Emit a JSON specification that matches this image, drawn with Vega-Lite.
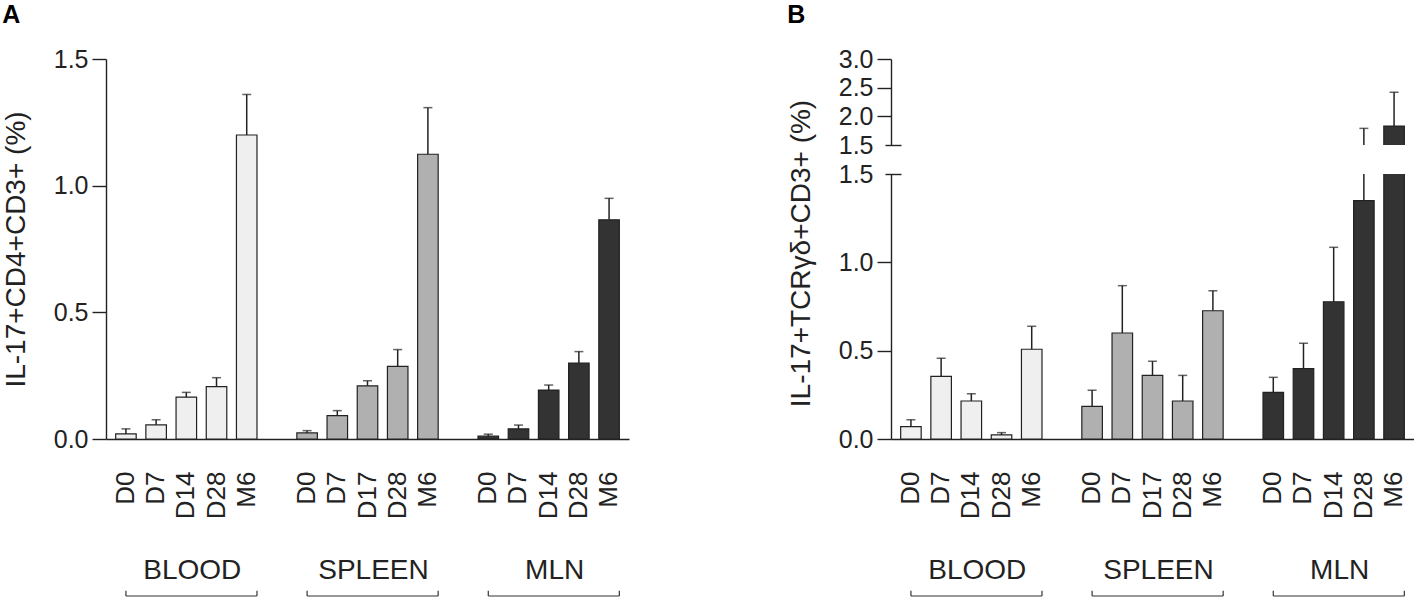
{
  "$schema": "https://vega.github.io/schema/vega-lite/v6.json",
  "padding": {"top": 3, "left": 2, "right": 0, "bottom": 0},
  "background": "white",
  "config": {
    "view": {"stroke": null},
    "font": "Liberation Sans",
    "axis": {
      "grid": false,
      "domainColor": "#222",
      "tickColor": "#222",
      "labelColor": "#222",
      "titleColor": "#222",
      "domainWidth": 1.4,
      "tickWidth": 1.4,
      "labelFont": "Liberation Sans",
      "titleFont": "Liberation Sans",
      "titleFontWeight": "normal"
    },
    "title": {"font": "Liberation Sans", "fontSize": 25, "fontWeight": "bold", "color": "#000", "anchor": "start", "frame": "bounds", "offset": 19}
  },
  "datasets": {
    "a": [
      {"tissue": "BLOOD", "time": "D0", "key": "BLOOD|D0", "mean": 0.02, "err": 0.04},
      {"tissue": "BLOOD", "time": "D7", "key": "BLOOD|D7", "mean": 0.056, "err": 0.076},
      {"tissue": "BLOOD", "time": "D14", "key": "BLOOD|D14", "mean": 0.165, "err": 0.184},
      {"tissue": "BLOOD", "time": "D28", "key": "BLOOD|D28", "mean": 0.207, "err": 0.242},
      {"tissue": "BLOOD", "time": "M6", "key": "BLOOD|M6", "mean": 1.2, "err": 1.36},
      {"tissue": "SPLEEN", "time": "D0", "key": "SPLEEN|D0", "mean": 0.024, "err": 0.033},
      {"tissue": "SPLEEN", "time": "D7", "key": "SPLEEN|D7", "mean": 0.092, "err": 0.112},
      {"tissue": "SPLEEN", "time": "D17", "key": "SPLEEN|D17", "mean": 0.21, "err": 0.23},
      {"tissue": "SPLEEN", "time": "D28", "key": "SPLEEN|D28", "mean": 0.287, "err": 0.353},
      {"tissue": "SPLEEN", "time": "M6", "key": "SPLEEN|M6", "mean": 1.124, "err": 1.308},
      {"tissue": "MLN", "time": "D0", "key": "MLN|D0", "mean": 0.011, "err": 0.019},
      {"tissue": "MLN", "time": "D7", "key": "MLN|D7", "mean": 0.04, "err": 0.055},
      {"tissue": "MLN", "time": "D14", "key": "MLN|D14", "mean": 0.193, "err": 0.213},
      {"tissue": "MLN", "time": "D28", "key": "MLN|D28", "mean": 0.3, "err": 0.345},
      {"tissue": "MLN", "time": "M6", "key": "MLN|M6", "mean": 0.865, "err": 0.95}
    ],
    "b": [
      {"tissue": "BLOOD", "time": "D0", "key": "BLOOD|D0", "mean": 0.07, "err": 0.109},
      {"tissue": "BLOOD", "time": "D7", "key": "BLOOD|D7", "mean": 0.355, "err": 0.457},
      {"tissue": "BLOOD", "time": "D14", "key": "BLOOD|D14", "mean": 0.215, "err": 0.256},
      {"tissue": "BLOOD", "time": "D28", "key": "BLOOD|D28", "mean": 0.023, "err": 0.036},
      {"tissue": "BLOOD", "time": "M6", "key": "BLOOD|M6", "mean": 0.508, "err": 0.638},
      {"tissue": "SPLEEN", "time": "D0", "key": "SPLEEN|D0", "mean": 0.185, "err": 0.276},
      {"tissue": "SPLEEN", "time": "D7", "key": "SPLEEN|D7", "mean": 0.6, "err": 0.868},
      {"tissue": "SPLEEN", "time": "D17", "key": "SPLEEN|D17", "mean": 0.36, "err": 0.44},
      {"tissue": "SPLEEN", "time": "D28", "key": "SPLEEN|D28", "mean": 0.215, "err": 0.36},
      {"tissue": "SPLEEN", "time": "M6", "key": "SPLEEN|M6", "mean": 0.726, "err": 0.839},
      {"tissue": "MLN", "time": "D0", "key": "MLN|D0", "mean": 0.264, "err": 0.349},
      {"tissue": "MLN", "time": "D7", "key": "MLN|D7", "mean": 0.398, "err": 0.542},
      {"tissue": "MLN", "time": "D14", "key": "MLN|D14", "mean": 0.777, "err": 1.085},
      {"tissue": "MLN", "time": "D28", "key": "MLN|D28", "mean": 1.349, "err": 1.79},
      {"tissue": "MLN", "time": "M6", "key": "MLN|M6", "mean": 1.83, "err": 2.42}
    ],
    "g": [
      {"tissue": "BLOOD", "first": "BLOOD|D0", "mid": "BLOOD|D14", "last": "BLOOD|M6"},
      {"tissue": "SPLEEN", "first": "SPLEEN|D0", "mid": "SPLEEN|D17", "last": "SPLEEN|M6"},
      {"tissue": "MLN", "first": "MLN|D0", "mid": "MLN|D14", "last": "MLN|M6"}
    ]
  },
  "hconcat": [
    {
      "title": {"text": "A"},
      "spacing": 37,
      "vconcat": [
        {
          "width": 523,
          "height": 380,
          "data": {"name": "a"},
          "encoding": {
            "x": {
              "field": "key",
              "type": "nominal",
              "scale": {
                "domain": ["BLOOD|D0", "BLOOD|D7", "BLOOD|D14", "BLOOD|D28", "BLOOD|M6", "g1|", "SPLEEN|D0", "SPLEEN|D7", "SPLEEN|D17", "SPLEEN|D28", "SPLEEN|M6", "g2|", "MLN|D0", "MLN|D7", "MLN|D14", "MLN|D28", "MLN|M6"],
                "paddingInner": 0.32,
                "paddingOuter": 0.32
              },
              "axis": {"title": null, "labelExpr": "split(datum.value, '|')[1]", "labelAngle": -90, "ticks": false, "labelPadding": 32, "labelFontSize": 26, "labelOverlap": false}
            }
          },
          "layer": [
            {
              "mark": {"type": "bar", "stroke": "#222", "strokeWidth": 1.2},
              "encoding": {
                "y": {
                  "field": "mean",
                  "type": "quantitative",
                  "scale": {"domain": [0, 1.5], "nice": false},
                  "axis": {"title": "IL-17+CD4+CD3+  (%)", "values": [0, 0.5, 1, 1.5], "format": ".1f", "tickSize": 14, "labelPadding": 4, "labelFontSize": 25, "titleFontSize": 28, "titlePadding": 23}
                },
                "fill": {
                  "field": "tissue",
                  "type": "nominal",
                  "scale": {"domain": ["BLOOD", "SPLEEN", "MLN"], "range": ["#efefef", "#b0b0b0", "#333333"]},
                  "legend": null
                }
              }
            },
            {
              "mark": {"type": "rule", "strokeWidth": 1.5, "color": "#222"},
              "encoding": {"y": {"field": "mean", "type": "quantitative"}, "y2": {"field": "err"}}
            },
            {
              "mark": {"type": "tick", "size": 9, "thickness": 1.5, "color": "#222"},
              "encoding": {"y": {"field": "err", "type": "quantitative"}}
            }
          ]
        },
        {
          "width": 523,
          "height": 40,
          "data": {"name": "g"},
          "encoding": {},
          "layer": [
            {
              "mark": {"type": "text", "fontSize": 28, "dx": 6, "color": "#222", "baseline": "middle"},
              "encoding": {
                "x": {"field": "mid", "type": "nominal", "scale": {"domain": ["BLOOD|D0", "BLOOD|D7", "BLOOD|D14", "BLOOD|D28", "BLOOD|M6", "g1|", "SPLEEN|D0", "SPLEEN|D7", "SPLEEN|D17", "SPLEEN|D28", "SPLEEN|M6", "g2|", "MLN|D0", "MLN|D7", "MLN|D14", "MLN|D28", "MLN|M6"], "paddingInner": 0.32, "paddingOuter": 0.32}, "axis": null},
                "y": {"datum": 0.68, "type": "quantitative", "scale": {"domain": [0, 1]}, "axis": null},
                "text": {"field": "tissue"}
              }
            },
            {
              "mark": {"type": "rule", "strokeWidth": 1.2, "color": "#333"},
              "encoding": {
                "x": {"field": "first", "type": "nominal", "bandPosition": 0.5},
                "x2": {"field": "last", "bandPosition": 1},
                "y": {"datum": 0.05, "type": "quantitative"}
              }
            },
            {
              "mark": {"type": "rule", "strokeWidth": 1.2, "color": "#333"},
              "encoding": {
                "x": {"field": "first", "type": "nominal", "bandPosition": 0.5},
                "y": {"datum": 0.05, "type": "quantitative"},
                "y2": {"datum": 0.18}
              }
            },
            {
              "mark": {"type": "rule", "strokeWidth": 1.2, "color": "#333"},
              "encoding": {
                "x": {"field": "last", "type": "nominal", "bandPosition": 1},
                "y": {"datum": 0.05, "type": "quantitative"},
                "y2": {"datum": 0.18}
              }
            }
          ]
        }
      ]
    },
    {
      "title": {"text": "B"},
      "spacing": 37,
      "vconcat": [
        {
          "bounds": "flush",
          "spacing": 29,
          "vconcat": [
            {
              "width": 523,
              "height": 86,
              "data": {"name": "b"},
              "encoding": {
                "x": {
                  "field": "key",
                  "type": "nominal",
                  "scale": {"domain": ["BLOOD|D0", "BLOOD|D7", "BLOOD|D14", "BLOOD|D28", "BLOOD|M6", "g1|", "SPLEEN|D0", "SPLEEN|D7", "SPLEEN|D17", "SPLEEN|D28", "SPLEEN|M6", "g2|", "MLN|D0", "MLN|D7", "MLN|D14", "MLN|D28", "MLN|M6"], "paddingInner": 0.32, "paddingOuter": 0.32},
                  "axis": null
                }
              },
              "layer": [
                {
                  "mark": {"type": "bar", "stroke": "#222", "strokeWidth": 1.2, "clip": true},
                  "encoding": {
                    "y": {
                      "field": "mean",
                      "type": "quantitative",
                      "scale": {"domain": [1.5, 3], "nice": false, "zero": false},
                      "axis": {"title": null, "values": [1.5, 2, 2.5, 3], "format": ".1f", "tickSize": 14, "labelPadding": 4, "labelFontSize": 25, "tickOpacity": {"condition": {"test": "datum.value === 1.5", "value": 0}, "value": 1}}
                    },
                    "fill": {
                      "field": "tissue",
                      "type": "nominal",
                      "scale": {"domain": ["BLOOD", "SPLEEN", "MLN"], "range": ["#efefef", "#b0b0b0", "#333333"]},
                      "legend": null
                    }
                  }
                },
                {
                  "mark": {"type": "rule", "strokeWidth": 1.5, "color": "#222", "clip": true},
                  "encoding": {
                    "y": {"field": "mean", "type": "quantitative", "axis": {"orient": "left", "title": null, "values": [1.5], "labels": false, "domain": false, "offset": -10, "tickSize": 16}},
                    "y2": {"field": "err"}
                  }
                },
                {
                  "mark": {"type": "tick", "size": 9, "thickness": 1.5, "color": "#222", "clip": true},
                  "encoding": {"y": {"field": "err", "type": "quantitative", "axis": null}}
                }
              ],
              "resolve": {"axis": {"y": "independent"}}
            },
            {
              "width": 523,
              "height": 265,
              "data": {"name": "b"},
              "encoding": {
                "x": {
                  "field": "key",
                  "type": "nominal",
                  "scale": {"domain": ["BLOOD|D0", "BLOOD|D7", "BLOOD|D14", "BLOOD|D28", "BLOOD|M6", "g1|", "SPLEEN|D0", "SPLEEN|D7", "SPLEEN|D17", "SPLEEN|D28", "SPLEEN|M6", "g2|", "MLN|D0", "MLN|D7", "MLN|D14", "MLN|D28", "MLN|M6"], "paddingInner": 0.32, "paddingOuter": 0.32},
                  "axis": {"title": null, "labelExpr": "split(datum.value, '|')[1]", "labelAngle": -90, "ticks": false, "labelPadding": 32, "labelFontSize": 26, "labelOverlap": false}
                }
              },
              "layer": [
                {
                  "mark": {"type": "bar", "stroke": "#222", "strokeWidth": 1.2, "clip": true},
                  "encoding": {
                    "y": {
                      "field": "mean",
                      "type": "quantitative",
                      "scale": {"domain": [0, 1.5], "nice": false},
                      "axis": {"title": "IL-17+TCRγδ+CD3+  (%)", "titleY": 79, "values": [0, 0.5, 1, 1.5], "format": ".1f", "tickSize": 14, "labelPadding": 4, "labelFontSize": 25, "titleFontSize": 28, "titlePadding": 23, "tickOpacity": {"condition": {"test": "datum.value === 1.5", "value": 0}, "value": 1}}
                    },
                    "fill": {
                      "field": "tissue",
                      "type": "nominal",
                      "scale": {"domain": ["BLOOD", "SPLEEN", "MLN"], "range": ["#efefef", "#b0b0b0", "#333333"]},
                      "legend": null
                    }
                  }
                },
                {
                  "mark": {"type": "rule", "strokeWidth": 1.5, "color": "#222", "clip": true},
                  "encoding": {
                    "y": {"field": "mean", "type": "quantitative", "axis": {"orient": "left", "title": null, "values": [1.5], "labels": false, "domain": false, "offset": -10, "tickSize": 16}},
                    "y2": {"field": "err"}
                  }
                },
                {
                  "mark": {"type": "tick", "size": 9, "thickness": 1.5, "color": "#222", "clip": true},
                  "encoding": {"y": {"field": "err", "type": "quantitative", "axis": null}}
                }
              ],
              "resolve": {"axis": {"y": "independent"}}
            }
          ]
        },
        {
          "width": 523,
          "height": 40,
          "data": {"name": "g"},
          "encoding": {},
          "layer": [
            {
              "mark": {"type": "text", "fontSize": 28, "dx": 6, "color": "#222", "baseline": "middle"},
              "encoding": {
                "x": {"field": "mid", "type": "nominal", "scale": {"domain": ["BLOOD|D0", "BLOOD|D7", "BLOOD|D14", "BLOOD|D28", "BLOOD|M6", "g1|", "SPLEEN|D0", "SPLEEN|D7", "SPLEEN|D17", "SPLEEN|D28", "SPLEEN|M6", "g2|", "MLN|D0", "MLN|D7", "MLN|D14", "MLN|D28", "MLN|M6"], "paddingInner": 0.32, "paddingOuter": 0.32}, "axis": null},
                "y": {"datum": 0.68, "type": "quantitative", "scale": {"domain": [0, 1]}, "axis": null},
                "text": {"field": "tissue"}
              }
            },
            {
              "mark": {"type": "rule", "strokeWidth": 1.2, "color": "#333"},
              "encoding": {
                "x": {"field": "first", "type": "nominal", "bandPosition": 0.5},
                "x2": {"field": "last", "bandPosition": 1},
                "y": {"datum": 0.05, "type": "quantitative"}
              }
            },
            {
              "mark": {"type": "rule", "strokeWidth": 1.2, "color": "#333"},
              "encoding": {
                "x": {"field": "first", "type": "nominal", "bandPosition": 0.5},
                "y": {"datum": 0.05, "type": "quantitative"},
                "y2": {"datum": 0.18}
              }
            },
            {
              "mark": {"type": "rule", "strokeWidth": 1.2, "color": "#333"},
              "encoding": {
                "x": {"field": "last", "type": "nominal", "bandPosition": 1},
                "y": {"datum": 0.05, "type": "quantitative"},
                "y2": {"datum": 0.18}
              }
            }
          ]
        }
      ]
    }
  ],
  "spacing": 158
}
